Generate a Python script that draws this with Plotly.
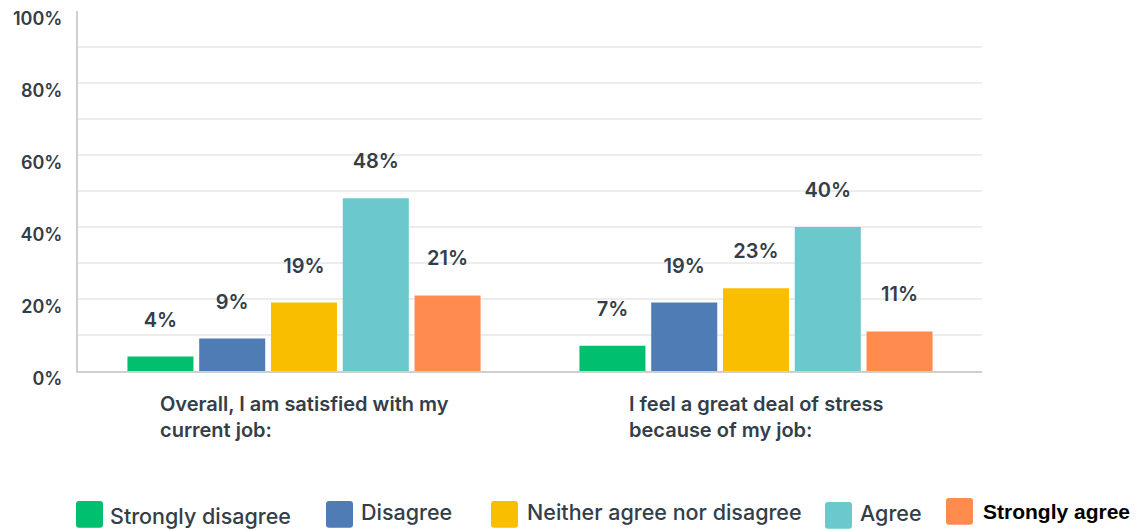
import plotly.graph_objects as go

# Survey statements (x categories) and their two-line display labels
categories = [
    "Overall, I am satisfied with my current job:",
    "I feel a great deal of stress because of my job:",
]
category_labels = [
    "Overall, I am satisfied with my<br>current job:",
    "I feel a great deal of stress<br>because of my job:",
]

# Response options and share of respondents (%) per statement
responses = ["Strongly disagree", "Disagree", "Neither agree nor disagree", "Agree", "Strongly agree"]
strongly_disagree = [4, 7]
disagree = [9, 19]
neutral = [19, 23]
agree = [48, 40]
strongly_agree = [21, 11]
series_values = [strongly_disagree, disagree, neutral, agree, strongly_agree]

colors = ["#00BF6F", "#507CB6", "#F9BE00", "#6BC8CD", "#FF8B4F"]

y_ticks = [0, 20, 40, 60, 80, 100]
y_tick_text = [f"{v}%" for v in y_ticks]
grid_lines = [10, 20, 30, 40, 50, 60, 70, 80, 90]

TEXT = "#333E48"
FONT = "Inter"

W, H = 1139, 531
ML, MR, MT, MB = 78, 157, 8, 160
PW, PH = W - ML - MR, H - MT - MB


def px_x(x):
    return (x - ML) / PW


def px_y(y):
    return (H - MB - y) / PH


fig = go.Figure()
for name, vals, col in zip(responses, series_values, colors):
    fig.add_trace(go.Bar(
        name=name,
        x=categories,
        y=vals,
        marker=dict(color=col, line=dict(width=0)),
        text=[f"{v}%<br><span style='font-size:4px'>&nbsp;</span>" for v in vals],
        textposition="outside",
        textfont=dict(family=FONT, size=20, color=TEXT, weight=600),
        constraintext="none",
        cliponaxis=False,
        showlegend=False,
        hoverinfo="skip",
    ))

# Statement labels under each group, left-aligned block centred on the group
for cat, lab in zip(categories, category_labels):
    fig.add_annotation(
        x=cat, xref="x", y=px_y(390), yref="paper",
        text=lab, showarrow=False, xanchor="center", yanchor="top", align="left",
        font=dict(family=FONT, size=20, color=TEXT, weight=600),
    )

# Custom legend row: rounded swatches with labels
swatch_left = [76, 326, 491, 825, 946]
swatch_top = [502, 502, 502, 503, 499]
text_left = [108, 359, 525, 858, 981]
text_mid = [517, 513, 513, 514, 513]
SW = 27
R = 3


def rounded_rect(x0, y0, x1, y1, r):
    # pixel rectangle -> paper-coordinate SVG path with rounded corners
    rx, ry = r / PW, r / PH
    X0, X1 = px_x(x0), px_x(x1)
    Yt, Yb = px_y(y0), px_y(y1)
    return (f"M {X0+rx},{Yt} L {X1-rx},{Yt} Q {X1},{Yt} {X1},{Yt-ry} "
            f"L {X1},{Yb+ry} Q {X1},{Yb} {X1-rx},{Yb} L {X0+rx},{Yb} "
            f"Q {X0},{Yb} {X0},{Yb+ry} L {X0},{Yt-ry} Q {X0},{Yt} {X0+rx},{Yt} Z")


for i, (name, col) in enumerate(zip(responses, colors)):
    fig.add_shape(
        type="path", xref="paper", yref="paper",
        path=rounded_rect(swatch_left[i], swatch_top[i], swatch_left[i] + SW, swatch_top[i] + SW, R),
        fillcolor=col, line=dict(width=0), layer="above",
    )
    if i == len(responses) - 1:
        lfont = dict(family="Liberation Sans", size=21, color="#000000", weight=700)
    else:
        lfont = dict(family=FONT, size=21.5, color=TEXT, weight=500)
    fig.add_annotation(
        x=px_x(text_left[i]), xref="paper", y=px_y(text_mid[i]), yref="paper",
        text=name, showarrow=False, xanchor="left", yanchor="middle",
        font=lfont,
    )

fig.update_layout(
    width=W, height=H,
    margin=dict(l=ML, r=MR, t=MT, b=MB),
    paper_bgcolor="white", plot_bgcolor="white",
    barmode="group", bargap=0.206, bargroupgap=0.08,
    font=dict(family=FONT, color=TEXT),
    showlegend=False,
)
fig.update_xaxes(
    type="category", showticklabels=False, ticks="",
    showline=True, linecolor="#CFCFCF", linewidth=2,
    showgrid=False, zeroline=False,
)
fig.update_yaxes(
    range=[0, 100], tickmode="array", tickvals=y_ticks, ticktext=y_tick_text,
    ticks="", ticklabelstandoff=10, ticklabelshift=8,
    tickfont=dict(family=FONT, size=18, color=TEXT, weight=600),
    showline=True, linecolor="#D0D0D0", linewidth=2,
    showgrid=False, zeroline=False,
    minor=dict(tickmode="array", tickvals=grid_lines, showgrid=True,
               gridcolor="#EDEDED", gridwidth=1.5, ticks=""),
)

fig.write_html("out.html")
